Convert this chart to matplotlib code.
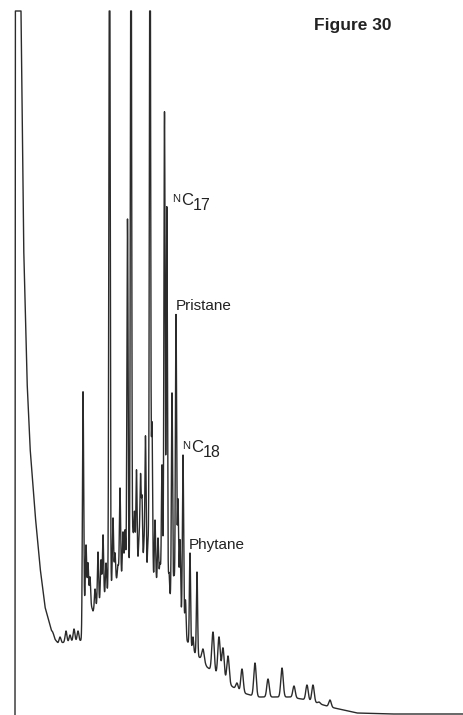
import numpy as np
import matplotlib.pyplot as plt

# detector response, arbitrary units (full scale of the recorder = 704)
FULL_SCALE = 704

# baseline / solvent front: retention position and signal level
base_x = [15, 15.3, 21, 22, 23.5, 27, 30, 35, 40, 45, 48, 53, 58, 80, 82.5,
          84, 88, 93, 100, 105, 117, 128, 137, 147, 162, 170, 178, 183, 187,
          195, 203, 207, 223, 240, 257, 290, 307, 330, 357, 390, 464]
base_y = [0, 704, 704, 615, 475, 335, 268, 202, 148, 108, 97, 78, 72, 74, 76,
          108, 118, 104, 114, 120, 136, 142, 148, 138, 130, 116, 106, 95, 74,
          62, 54, 48, 35, 23, 18, 18, 15, 8, 2, 1, 1]

# resolved peaks: position, apex level, width
peak_x = [53, 60, 66, 70, 74, 78,
          83, 86, 88, 90, 95, 98, 101, 103, 106, 109.5, 113, 115, 118, 120,
          123, 125, 127.5, 131, 133, 134.5, 136.5, 139, 140.5, 142, 144, 145.5,
          148, 150, 152, 155, 158, 160, 162, 164.5, 166.8, 169, 172, 174,
          176, 178, 180, 183, 185.5, 190, 193, 197,
          203, 213, 219, 223, 228, 237, 242, 255, 268, 282, 294, 307, 313,
          319, 330]
peak_h = [82, 78, 84, 80, 86, 84,
          323, 170, 152, 138, 126, 163, 155, 180, 152, 900, 197, 162, 150, 227,
          183, 185, 496, 900, 178, 202, 245, 176, 237, 215, 168, 278,
          172, 900, 290, 195, 177, 152, 250, 603, 508, 142, 322, 138,
          400, 215, 175, 260, 115, 162, 78, 143,
          66, 83, 78, 67, 59, 32, 46, 52, 36, 47, 29, 30, 30,
          13, 15]
peak_w = [0.9] * 6 + [0.6] * 46 + [1.2] * 15

# named compounds: (prefix, main, subscript) drawn next to their peaks
alkanes = [('N', 'C', '17'), ('N', 'C', '18')]
alkane_x = [172, 182]
alkane_y = [510, 263]
names = ['Pristane', 'Phytane']
name_x = [176, 189]
name_y = [405, 166]

plt.rcParams['font.family'] = ['Liberation Sans', 'DejaVu Sans']

t = np.arange(15, 464.01, 0.05)
signal = np.interp(t, base_x, base_y)
for x0, h, w in zip(peak_x, peak_h, peak_w):
    amp = h - np.interp(x0, base_x, base_y)
    signal = signal + amp * np.exp(-0.5 * ((t - x0) / w) ** 2)
signal = np.minimum(signal, FULL_SCALE)
signal[0] = 0

fig = plt.figure(figsize=(4.64, 7.15), dpi=100)
ax = fig.add_axes([0, 0, 1, 1])
ax.plot(t, signal, color='#2b2b2b', lw=1.0)
ax.set_xlim(0, 464)
ax.set_ylim(0, 715)
ax.axis('off')

ink = '#222222'
for (pre, main, sub), x, y in zip(alkanes, alkane_x, alkane_y):
    ax.text(x, y + 3, pre, fontsize=8, color=ink, va='baseline')
    ax.text(x + 9, y, main, fontsize=12, color=ink, va='baseline')
    ax.text(x + 21, y - 5, sub, fontsize=11.5, color=ink, va='baseline')

for txt, x, y in zip(names, name_x, name_y):
    ax.text(x, y, txt, fontsize=11, color=ink, va='baseline')

ax.text(314, 685, 'Figure 30', fontsize=12.5, fontweight='bold',
        color=ink, va='baseline')

fig.savefig('out.png', dpi=100, facecolor='white')
